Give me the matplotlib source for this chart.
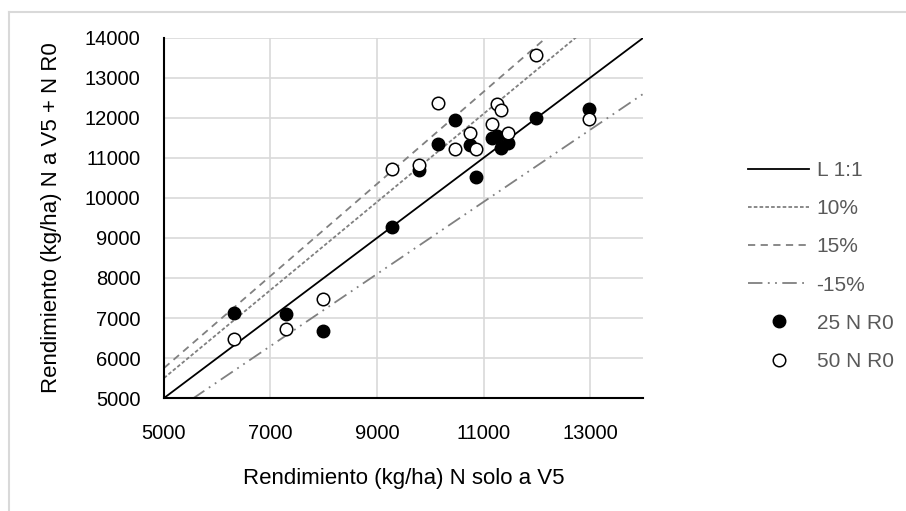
import numpy as np
import matplotlib
matplotlib.use("Agg")
import matplotlib.pyplot as plt
from matplotlib.lines import Line2D

plt.rcParams['font.family'] = ['Liberation Sans', 'DejaVu Sans']

## Donnees

# 25 N R0 (points pleins)
x_25 = [6310, 7296, 7989, 9281, 9792, 10154, 10460, 10741, 10866, 11153, 11246, 11333, 11465, 11995, 12975]
y_25 = [7133, 7100, 6667, 9283, 10700, 11350, 11950, 11333, 10533, 11500, 11550, 11250, 11367, 12000, 12233]

# 50 N R0 (points vides)
x_50 = [6310, 7284, 7989, 9281, 9792, 10154, 10460, 10741, 10866, 11153, 11246, 11333, 11465, 11995, 12975]
y_50 = [6467, 6733, 7475, 10717, 10833, 12367, 11233, 11633, 11233, 11850, 12350, 12200, 11617, 13583, 11983]

# Droites de reference : y = facteur * x
facteurs = [1.0, 1.1, 1.15, 0.9]
noms_droites = ["L 1:1", "10%", "15%", "-15%"]

x_ticks = [5000, 7000, 9000, 11000, 13000]
y_ticks = [5000, 6000, 7000, 8000, 9000, 10000, 11000, 12000, 13000, 14000]

## Figure

fig = plt.figure(figsize=(9.06, 5.11), dpi=100)
ax = fig.add_axes([0.181, 0.221, 0.529, 0.705])

# Cadre gris clair autour du graphique
fig.add_artist(Line2D([9/906, 1], [1 - 12/511, 1 - 12/511], color="#d9d9d9", lw=1.5))
fig.add_artist(Line2D([9/906, 9/906], [0, 1 - 12/511], color="#d9d9d9", lw=1.5))

X = np.array([5000, 14000])
styles = [
    dict(color="black", lw=1.3, ls="-"),
    dict(color="#808080", lw=1.3, ls=(0, (2, 1.2))),
    dict(color="#808080", lw=1.3, ls=(0, (4, 3))),
    dict(color="#808080", lw=1.3, ls=(0, (8, 3, 1, 3, 1, 3))),
]
for f, nom, st in zip(facteurs, noms_droites, styles):
    ax.plot(X, f*X, label=nom, **st)

ax.plot(x_25, y_25, 'o', color="black", markersize=9, label="25 N R0", zorder=4)
ax.plot(x_50, y_50, 'o', markerfacecolor="white", markeredgecolor="black",
        markeredgewidth=1.1, markersize=9, label="50 N R0", zorder=4)

ax.set_xlim(5000, 14000)
ax.set_ylim(5000, 14000)
ax.set_xticks(x_ticks)
ax.set_yticks(y_ticks)
ax.grid(True, color="#d9d9d9", lw=1.2)
ax.set_axisbelow(True)
for s in ["top", "right"]:
    ax.spines[s].set_visible(False)
for s in ["left", "bottom"]:
    ax.spines[s].set_linewidth(1.5)
ax.tick_params(length=0, labelsize=14.5)
ax.tick_params(axis="y", pad=17)
ax.tick_params(axis="x", pad=19)

ax.set_xlabel("Rendimiento (kg/ha) N solo a V5", fontsize=16, labelpad=18)
ax.set_ylabel("Rendimiento (kg/ha) N a V5 + N R0", fontsize=16, labelpad=16)

leg = ax.legend(loc="upper left", bbox_to_anchor=(1.179, 0.71), frameon=False,
                fontsize=15, handlelength=2.95, labelspacing=0.92, handletextpad=0.35)
for t in leg.get_texts():
    t.set_color("#595959")

plt.savefig("out.png", dpi=100)
